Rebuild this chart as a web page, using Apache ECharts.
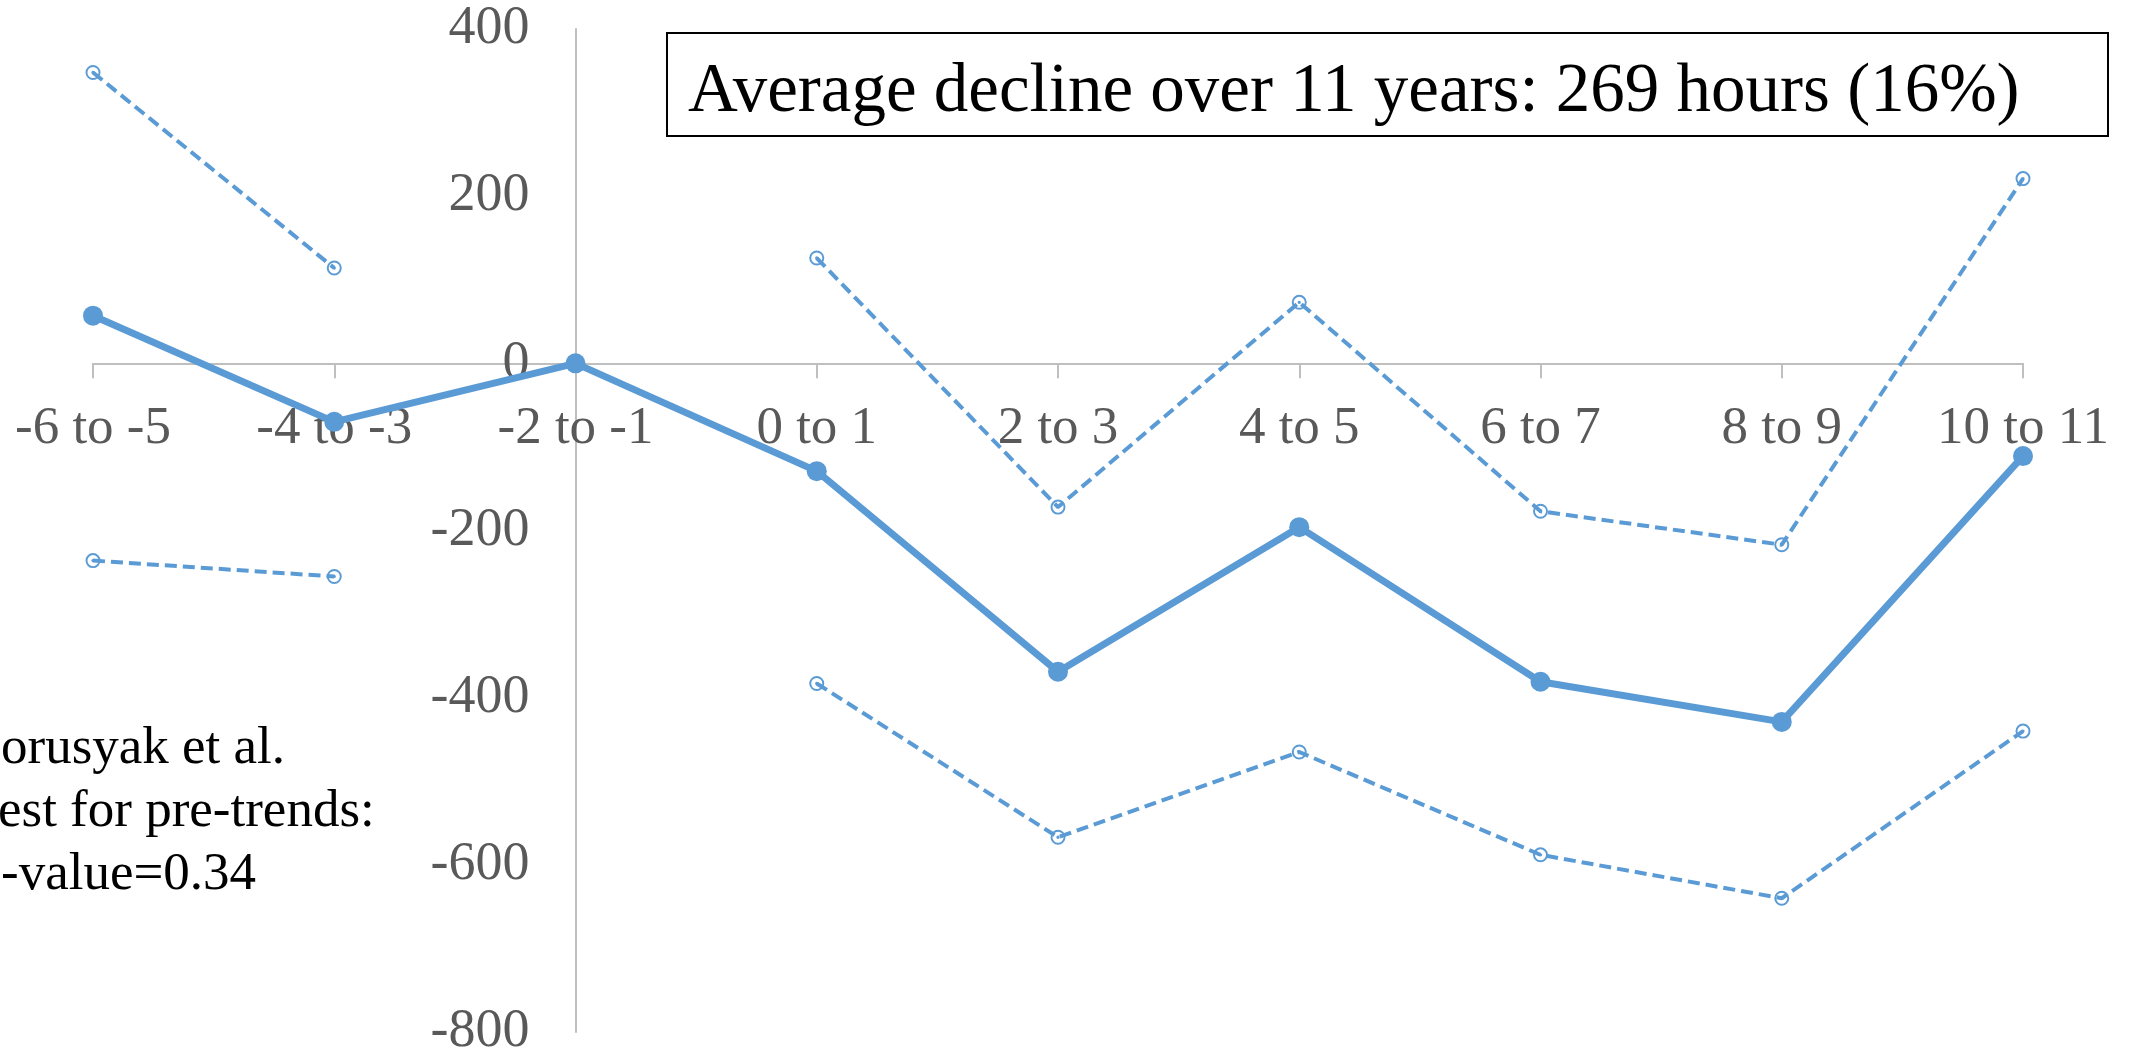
<!DOCTYPE html>
<html>
<head>
<meta charset="utf-8">
<script src="https://cdn.jsdelivr.net/npm/echarts@6/dist/echarts.min.js"></script>
<style>
  html, body { margin: 0; padding: 0; background: #ffffff; }
  #chart { width: 2138px; height: 1054px; }
</style>
</head>
<body>
<div id="chart"></div>
<script>
// Event-time bins (years relative to treatment)
const categories = ['-6 to -5', '-4 to -3', '-2 to -1', '0 to 1', '2 to 3', '4 to 5', '6 to 7', '8 to 9', '10 to 11'];
// Point estimates (hours); reference period "-2 to -1" normalised to 0
const estimate = [57, -70, 0, -129, -369, -196, -381, -429, -111];
// 95% confidence bounds (none for the reference period)
const upperCI = [348, 114, null, 126, -172, 73, -177, -217, 221];
const lowerCI = [-236, -255, null, -383, -567, -465, -588, -640, -440];
// Value-axis ticks
const yTicks = { min: -800, max: 400, step: 200 };

const headline = 'Average decline over 11 years: 269 hours (16%)';
const noteLines = ['orusyak et al.', 'est for pre-trends:', '-value=0.34'];

const serif = '"Liberation Serif", "Times New Roman", serif';
const blue = '#5B9BD5';
const axisGrey = '#BFBFBF';
const labelGrey = '#595959';

// ring marker with a centre dot for the confidence bounds
const ringDot = 'path://M50,0 A50,50 0 1,1 50,100 A50,50 0 1,1 50,0 Z ' +
  'M50,13 A37,37 0 1,0 50,87 A37,37 0 1,0 50,13 Z ' +
  'M50,39 A11,11 0 1,1 50,61 A11,11 0 1,1 50,39 Z';

const W = 2138, H = 1054;
const gridLeft = 93, gridRight = 115, gridTop = 29, gridBottom = 22;
const plotW = W - gridLeft - gridRight;
const plotH = H - gridTop - gridBottom;
const step = plotW / (categories.length - 1);
// vertical axis crosses at the reference period, horizontal axis at zero
const refIndex = categories.indexOf('-2 to -1');
const zeroFromTop = plotH * (yTicks.max - 0) / (yTicks.max - yTicks.min);

const chart = echarts.init(document.getElementById('chart'), null, { renderer: 'canvas' });

const ciSeries = (name, data) => ({
  name,
  type: 'line',
  data,
  connectNulls: false,
  symbol: ringDot,
  symbolSize: 15,
  itemStyle: { color: blue },
  lineStyle: { color: blue, width: 4, type: [12, 6] },
  z: 2
});

chart.setOption({
  animation: false,
  backgroundColor: '#ffffff',
  grid: {
    left: gridLeft, right: gridRight, top: gridTop, bottom: gridBottom,
    containLabel: false, outerBoundsMode: 'none'
  },
  xAxis: {
    type: 'category',
    data: categories,
    boundaryGap: false,
    position: 'top',
    offset: -zeroFromTop,
    axisLine: { onZero: false, lineStyle: { color: axisGrey, width: 2 } },
    axisTick: { show: true, inside: true, length: 15, alignWithLabel: true, lineStyle: { color: axisGrey, width: 2 } },
    axisLabel: { inside: true, interval: 0, margin: 39, fontSize: 53, fontFamily: serif, color: labelGrey },
    splitLine: { show: false }
  },
  yAxis: {
    type: 'value',
    min: yTicks.min,
    max: yTicks.max,
    interval: yTicks.step,
    position: 'left',
    offset: -(refIndex * step),
    axisLine: { show: true, onZero: false, lineStyle: { color: axisGrey, width: 2 } },
    axisTick: { show: false },
    axisLabel: { margin: 46, fontSize: 54, fontFamily: serif, color: labelGrey },
    splitLine: { show: false }
  },
  series: [
    ciSeries('Upper bound', upperCI),
    ciSeries('Lower bound', lowerCI),
    {
      name: 'Estimate',
      type: 'line',
      data: estimate,
      symbol: 'circle',
      symbolSize: 20,
      itemStyle: { color: blue },
      lineStyle: { color: blue, width: 7 },
      z: 3
    }
  ],
  graphic: [
    {
      type: 'rect',
      shape: { x: 667, y: 33, width: 1441, height: 103 },
      style: { fill: '#ffffff', stroke: '#000000', lineWidth: 2 },
      z: 10
    },
    {
      type: 'text',
      x: 688, y: 93,
      style: { text: headline, font: '69px ' + serif, fill: '#000000', textAlign: 'left', textVerticalAlign: 'middle' },
      z: 11
    },
    ...noteLines.map((t, i) => ({
      type: 'text',
      x: i === 1 ? -2 : 1,
      y: 749 + i * 63,
      style: { text: t, font: '53px ' + serif, fill: '#000000', textAlign: 'left', textVerticalAlign: 'middle' },
      z: 11
    }))
  ]
});
</script>
</body>
</html>
